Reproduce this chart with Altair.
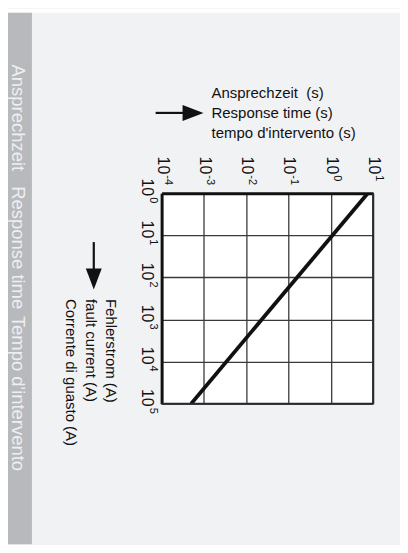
import altair as alt
import pandas as pd

# ---- data ----
x_exponents = [-4, -3, -2, -1, 0, 1]          # response time decades (s)
y_exponents = [0, 1, 2, 3, 4, 5]              # fault current decades (A)
curve_current = [1, 100000]                   # A
curve_time = [7.5, 0.0005]                    # s
title_text = "Ansprechzeit\u00a0 (s)\nResponse time (s)\ntempo d'intervento (s)"
current_text = "Fehlerstrom (A)\nfault current (A)\nCorrente di guasto (A)"
side_labels = ["Ansprechzeit", "Response time", "Tempo d'intervento"]

# ---- layout ----
W, H = 212, 211
PAD = {"left": 154, "top": 185, "right": 27, "bottom": 141}
FONT = "Liberation Sans"
SIDE_FONT = "Liberation Sans"

xs = alt.Scale(type="log", domain=[10.0 ** x_exponents[0], 10.0 ** x_exponents[-1]])
ys = alt.Scale(type="log", domain=[10.0 ** y_exponents[0], 10.0 ** y_exponents[-1]], reverse=True)

xt = pd.DataFrame({"t": [10.0 ** e for e in x_exponents],
                   "base": "10",
                   "exp": [str(e) for e in x_exponents]})
yt = pd.DataFrame({"I": [10.0 ** e for e in y_exponents],
                   "base": "10",
                   "exp": [str(e) for e in y_exponents]})
curve = pd.DataFrame({"I": curve_current, "t": curve_time})
one = pd.DataFrame({"k": [0]})

x_axis = alt.Axis(orient="top", values=list(xt["t"]), labels=False, ticks=False, title=None,
                  grid=True, gridColor="#3a3a3a", gridWidth=1.3,
                  domain=True, domainColor="#111111", domainWidth=3)
y_axis = alt.Axis(orient="left", values=list(yt["I"]), labels=False, ticks=False, title=None,
                  grid=True, gridColor="#3a3a3a", gridWidth=1.3,
                  domain=True, domainColor="#111111", domainWidth=3)

X = alt.X("t:Q", scale=xs, axis=x_axis)
Y = alt.Y("I:Q", scale=ys, axis=y_axis)

line = alt.Chart(curve).mark_line(color="#111111", strokeWidth=3.8, clip=True).encode(x=X, y=Y)

right_border = alt.Chart(xt.tail(1)).mark_rule(color="#2a2a2a", strokeWidth=2).encode(x=X)
bottom_border = alt.Chart(yt.tail(1)).mark_rule(color="#2a2a2a", strokeWidth=2).encode(y=Y)

# tick labels (rotated, with superscript exponents)
x_base = alt.Chart(xt).mark_text(angle=90, align="right", baseline="middle", font=FONT,
                                 fontSize=16, color="#111111", dy=-1).encode(
    x=X, y=alt.value(-19), text="base:N")
x_exp = alt.Chart(xt).mark_text(angle=90, align="left", baseline="middle", font=FONT,
                                fontSize=11, color="#111111", dx=1, dy=-6).encode(
    x=X, y=alt.value(-19), text="exp:N")
y_base = alt.Chart(yt).mark_text(angle=90, align="right", baseline="middle", font=FONT,
                                 fontSize=16, color="#111111", dx=3).encode(
    y=Y, x=alt.value(-15), text="base:N")
y_exp = alt.Chart(yt).mark_text(angle=90, align="left", baseline="middle", font=FONT,
                                fontSize=11, color="#111111", dx=4, dy=-6).encode(
    y=Y, x=alt.value(-15), text="exp:N")

# axis titles
title = alt.Chart(one).mark_text(align="left", baseline="alphabetic", font=FONT, fontSize=15,
                                 lineBreak="\n", lineHeight=20, color="#111111").encode(
    x=alt.value(50), y=alt.value(-95), text=alt.value(title_text))
current_title = alt.Chart(one).mark_text(angle=90, align="left", baseline="alphabetic", font=FONT,
                                         fontSize=15, lineBreak="\n", lineHeight=20,
                                         color="#111111").encode(
    x=alt.value(-56), y=alt.value(106), text=alt.value(current_text))

# arrows
h_shaft = alt.Chart(one).mark_rule(color="#111111", strokeWidth=2.2).encode(
    x=alt.value(-6), x2=alt.value(22), y=alt.value(-80.5))
h_head = alt.Chart(one).mark_point(shape="M-1,-0.76L1,0L-1,0.76Z", filled=True, size=441,
                                   color="#111111", opacity=1, strokeWidth=0).encode(
    x=alt.value(31.5), y=alt.value(-80.5))
v_shaft = alt.Chart(one).mark_rule(color="#111111", strokeWidth=2.2).encode(
    x=alt.value(-68), y=alt.value(49), y2=alt.value(76))
v_head = alt.Chart(one).mark_point(shape="M-0.76,-1L0.76,-1L0,1Z", filled=True, size=441,
                                   color="#111111", opacity=1, strokeWidth=0).encode(
    x=alt.value(-68), y=alt.value(86))

# page decoration
top_strip = alt.Chart(one).mark_rect(color="white").encode(
    x=alt.value(-154), x2=alt.value(239), y=alt.value(-185), y2=alt.value(-181))
side_bar = alt.Chart(one).mark_rect(color="#b8b9bd").encode(
    x=alt.value(-154), x2=alt.value(-130), y=alt.value(-181), y2=alt.value(352))
side_style = dict(angle=90, align="left", baseline="alphabetic", font=SIDE_FONT,
                  fontSize=18.5, color="#eeeff1")
side_1 = alt.Chart(one).mark_text(**side_style).encode(
    x=alt.value(-150), y=alt.value(-129), text=alt.value(side_labels[0]))
side_2 = alt.Chart(one).mark_text(**side_style).encode(
    x=alt.value(-150), y=alt.value(-7), text=alt.value(side_labels[1]))
side_3 = alt.Chart(one).mark_text(**side_style).encode(
    x=alt.value(-150), y=alt.value(123), text=alt.value(side_labels[2]))

chart = alt.layer(
    line, right_border, bottom_border,
    x_base, x_exp, y_base, y_exp,
    title, current_title,
    h_shaft, h_head, v_shaft, v_head,
    top_strip, side_bar, side_1, side_2, side_3,
).properties(
    width=W, height=H,
    autosize=alt.AutoSizeParams(type="none"),
    padding=PAD,
    background="#f1f2f4",
).configure_view(fill="white", strokeWidth=0)

chart.save("out.html", embed_options={"renderer": "svg", "actions": False})
